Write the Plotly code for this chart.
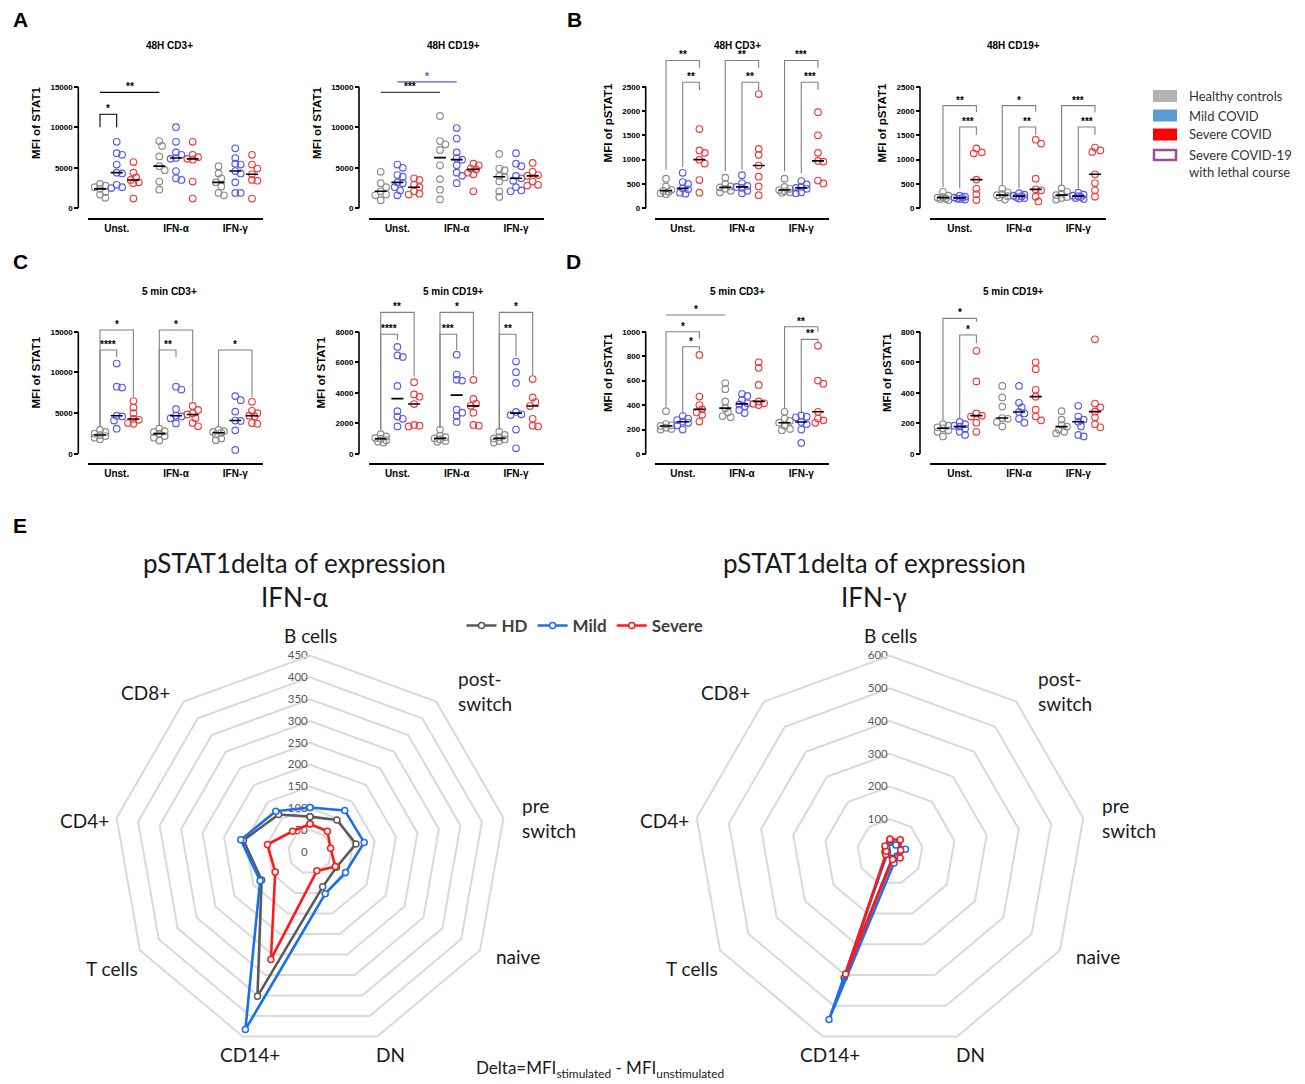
import numpy as np
import plotly.graph_objects as go

W, H = 1305, 1084

# ---------------- categories / labels ----------------
stims = ["Unst.", "IFN-α", "IFN-γ"]
cohorts = ["Healthy controls", "Mild COVID", "Severe COVID"]
legend_labels = ["Healthy controls", "Mild COVID", "Severe COVID",
                 "Severe COVID-19<br>with lethal course"]

# ---------------- A: 48H STAT1 (lists: Unst., IFN-α, IFN-γ) ----------------
a_cd3_hc = [[3000, 2800, 2600, 2400, 2000, 1700, 1300],
            [8300, 7700, 6400, 5200, 4700, 3300, 2300],
            [5200, 4300, 3700, 3200, 2700, 1900, 1600]]
a_cd3_mild = [[8200, 6800, 6600, 5400, 4400, 4300, 2900, 2600, 2500],
              [10000, 8200, 6900, 6600, 6200, 6100, 4600, 3700, 3500],
              [7400, 6200, 5500, 5400, 4600, 4300, 3200, 1900, 1900]]
a_cd3_sev = [[5700, 4400, 3800, 3500, 3200, 3100, 1200],
             [8200, 6600, 6300, 6100, 6000, 3300, 1200],
             [6600, 5400, 4900, 4200, 3500, 3400, 1200]]

a_cd19_hc = [[4500, 3100, 2600, 2100, 1700, 1600, 1000],
             [11400, 8300, 7900, 7200, 5300, 3600, 2300, 1100],
             [6700, 4900, 4700, 4000, 3800, 3300, 2100, 1400]]
a_cd19_mild = [[5400, 5000, 4100, 3900, 3200, 3100, 2600, 2200, 1600],
               [9900, 8600, 6900, 6200, 6000, 5300, 4400, 4000, 3100],
               [6800, 5500, 5200, 4000, 3700, 3400, 2600, 2200, 2100]]
a_cd19_sev = [[3700, 3500, 2900, 2600, 2100, 1800, 1700],
              [5500, 5300, 4900, 4800, 4400, 4200, 2100],
              [5600, 4500, 4100, 4000, 3300, 2900, 2800]]

# ---------------- B: 48H pSTAT1 ----------------
b_cd3_hc = [[610, 450, 380, 360, 340, 310, 290],
            [630, 500, 450, 430, 400, 360, 330],
            [610, 440, 400, 375, 350, 330, 320]]
b_cd3_mild = [[730, 540, 500, 410, 390, 320, 300],
              [680, 520, 460, 440, 420, 360, 310],
              [560, 490, 440, 420, 400, 330, 310]]
b_cd3_sev = [[1630, 1190, 1140, 1000, 920, 580, 320],
             [2350, 1220, 1100, 880, 650, 450, 270],
             [1975, 1500, 1140, 975, 960, 570, 510]]

b_cd19_hc = [[340, 260, 230, 220, 200, 190, 170],
             [400, 330, 290, 270, 250, 220, 180],
             [410, 340, 300, 270, 230, 210, 180]]
b_cd19_mild = [[260, 240, 220, 215, 200, 190, 180],
               [310, 280, 260, 250, 230, 210, 200],
               [320, 280, 260, 250, 230, 210, 190]]
b_cd19_sev = [[1230, 1150, 1130, 590, 400, 290, 170],
              [1410, 1330, 610, 390, 370, 240, 140],
              [1250, 1190, 1160, 700, 520, 370, 240]]

# ---------------- C: 5 min STAT1 ----------------
c_cd3_hc = [[2950, 2700, 2500, 2330, 2200, 2000, 1800],
            [3100, 2800, 2700, 2500, 2200, 2000, 1650],
            [2950, 2800, 2700, 2600, 2400, 1900, 1700]]
c_cd3_mild = [[11100, 8250, 8150, 4700, 4600, 4100, 3100],
              [8250, 7900, 5500, 4700, 4600, 4400, 3750],
              [7100, 6600, 5200, 4100, 4050, 2900, 500]]
c_cd3_sev = [[6500, 5700, 5000, 4300, 4200, 3800, 3700],
             [5900, 5400, 5000, 4850, 4400, 3800, 3400],
             [6400, 5300, 5000, 4700, 4600, 3800, 3700]]

c_cd19_hc = [[1300, 1150, 1050, 1000, 900, 800, 750],
             [1600, 1200, 1100, 1020, 950, 850, 800],
             [1450, 1250, 1100, 1020, 950, 850, 750]]
c_cd19_mild = [[7000, 6450, 6350, 4450, 2800, 2450, 2300, 1800],
               [6500, 5200, 4850, 4800, 2900, 2700, 2500, 2100],
               [6050, 5350, 4650, 2750, 2600, 2550, 1600, 370]]
c_cd19_sev = [[4700, 3900, 3750, 3270, 1900, 1850, 1800],
              [4850, 3600, 3300, 3150, 2700, 1900, 1850],
              [4900, 3700, 3400, 3140, 2300, 1850, 1800]]

# ---------------- D: 5 min pSTAT1 ----------------
d_cd3_hc = [[350, 245, 235, 229, 215, 205, 200],
            [580, 530, 430, 375, 340, 310, 300],
            [345, 290, 270, 256, 230, 205, 195]]
d_cd3_mild = [[310, 290, 278, 264, 255, 235, 200],
              [490, 475, 445, 415, 405, 390, 360, 335],
              [315, 305, 300, 262, 245, 200, 90]]
d_cd3_sev = [[810, 470, 400, 365, 340, 320, 265],
             [750, 705, 565, 430, 415, 410, 400],
             [885, 600, 575, 345, 290, 275, 255]]

d_cd19_hc = [[195, 185, 175, 168, 155, 145, 115],
             [445, 370, 310, 235, 230, 210, 180],
             [280, 225, 190, 179, 160, 145, 135]]
d_cd19_mild = [[210, 195, 185, 179, 165, 145, 125],
               [445, 335, 305, 275, 265, 230, 205],
               [315, 245, 225, 211, 180, 125, 115]]
d_cd19_sev = [[675, 475, 265, 251, 245, 205, 145],
              [600, 555, 420, 375, 290, 245, 220],
              [750, 330, 305, 277, 240, 195, 175]]

# tick values
ticks_15000 = [0, 5000, 10000, 15000]
ticks_2500 = [0, 500, 1000, 1500, 2000, 2500]
ticks_8000 = [0, 2000, 4000, 6000, 8000]
ticks_1000 = [0, 200, 400, 600, 800, 1000]
ticks_800 = [0, 200, 400, 600, 800]

# significance brackets: (stim0, cohort0, stim1, cohort1, top, left_end, right_end, label)
a_cd3_br = [(0, 0, 0, 1, 11600, 10000, 10000, "*"),
            (0, 0, 1, 0, 14300, 14300, 14300, "**")]
a_cd19_br = [(0, 0, 1, 0, 14300, 14300, 14300, "***"),
             (0, 1, 1, 1, 15600, 15600, 15600, "*")]
b_cd3_br = [(0, 0, 0, 2, 3040, 790, 2890, "**"), (0, 1, 0, 2, 2590, 850, 2430, "**"),
            (1, 0, 1, 2, 3040, 760, 2890, "**"), (1, 1, 1, 2, 2590, 790, 2430, "**"),
            (2, 0, 2, 2, 3040, 760, 2890, "***"), (2, 1, 2, 2, 2590, 720, 2430, "***")]
b_cd19_br = [(0, 0, 0, 2, 2110, 440, 1975, "**"), (0, 1, 0, 2, 1670, 410, 1510, "***"),
             (1, 0, 1, 2, 2110, 470, 1975, "*"), (1, 1, 1, 2, 1670, 410, 1510, "**"),
             (2, 0, 2, 2, 2110, 470, 1975, "***"), (2, 1, 2, 2, 1670, 410, 1510, "***")]
c_cd3_br = [(0, 0, 0, 2, 15200, 3350, 7030, "*"), (0, 0, 0, 1, 12750, 3350, 11900, "****"),
            (1, 0, 1, 2, 15200, 3500, 6450, "*"), (1, 0, 1, 1, 12750, 3500, 11900, "**"),
            (2, 0, 2, 2, 12750, 3350, 7000, "*")]
c_cd19_br = [(0, 0, 0, 2, 9265, 1570, 5060, "**"), (0, 0, 0, 1, 7830, 1570, 7450, "****"),
             (1, 0, 1, 2, 9265, 1700, 5170, "*"), (1, 0, 1, 1, 7830, 1700, 6800, "***"),
             (2, 0, 2, 2, 9265, 1600, 5170, "*"), (2, 0, 2, 1, 7830, 1600, 6370, "**")]
d_cd3_br = [(0, 0, 1, 0, 1136, 1136, 1136, "*"),
            (0, 0, 0, 2, 1000, 387, 946, "*"), (0, 1, 0, 2, 877, 332, 850, "*"),
            (2, 0, 2, 2, 1041, 373, 1000, "**"), (2, 1, 2, 2, 937, 332, 905, "**")]
d_cd19_br = [(0, 0, 0, 2, 887, 222, 865, "*"), (0, 1, 0, 2, 778, 233, 724, "*")]

# ---------------- E: radar data ----------------
cell_types = ["B cells", "post-switch", "pre switch", "naive", "DN",
              "CD14+", "T cells", "CD4+", "CD8+"]
cell_labels = ["B cells", "post-<br>switch", "pre<br>switch", "naive", "DN",
               "CD14+", "T cells", "CD4+", "CD8+"]
radar_groups = ["HD", "Mild", "Severe"]
ifna_hd = [81, 96, 107, 70, 85, 352, 128, 155, 112]
ifna_mild = [102, 124, 126, 94, 102, 433, 132, 161, 122]
ifna_sev = [64, 62, 48, 67, 46, 262, 92, 99, 62]
ifng_hd = [30, 30, 35, 25, 20, 410, 12, 15, 20]
ifng_mild = [35, 28, 48, 30, 36, 545, 10, 8, 15]
ifng_sev = [39, 49, 33, 36, 24, 397, 15, 12, 24]

# ---------------- styles ----------------
ARIAL = "Arial, Liberation Sans, sans-serif"
LATO = "Lato, Carlito, sans-serif"
DOT_COLORS = ["#8c8c8c", "#5a5af2", "#f03c3c"]
LEG_COLORS = ["#b3b1b1", "#5b9bd5", "#ff0000"]
LEG_OUTLINE = "#9b4f9b"
RADAR_COLORS = ["#5a5a5a", "#1a6ef0", "#ff1a1a"]
BR_GRAY = "#808080"
BR_BLUE = "#4b55f5"

DX = 16.7      # px per x unit
GS = 3.55      # x units between stimulation groups
col_axis = [78.3, 359.0, 645.7, 920.0]
col_first = [100.0, 380.7, 666.0, 943.0]
col_title = [169, 453, 737, 1013]
row_zero = [208.3, 454.0]
row_toptick = [86.7, 331.7]
row_dom = [(28, 218.0), (282, 463.3)]
row_title = [46, 291.7]

# radar label placement (offset from radar centre, px; anchor)
label_offsets = [(0, -217, "center"), (146, -161, "left"), (210, -34, "left"),
                 (208, 104, "center"), (80, 202, "center"), (-60, 202, "center"),
                 (-198, 116, "center"), (-226, -32, "center"), (-165, -160, "center")]

panels = [
    ("48H CD3+", "MFI of STAT1", [a_cd3_hc, a_cd3_mild, a_cd3_sev], ticks_15000, a_cd3_br, 0, 0, "black"),
    ("48H CD19+", "MFI of STAT1", [a_cd19_hc, a_cd19_mild, a_cd19_sev], ticks_15000, a_cd19_br, 1, 0, "#444444"),
    ("48H CD3+", "MFI of pSTAT1", [b_cd3_hc, b_cd3_mild, b_cd3_sev], ticks_2500, b_cd3_br, 2, 0, BR_GRAY),
    ("48H CD19+", "MFI of pSTAT1", [b_cd19_hc, b_cd19_mild, b_cd19_sev], ticks_2500, b_cd19_br, 3, 0, BR_GRAY),
    ("5 min CD3+", "MFI of STAT1", [c_cd3_hc, c_cd3_mild, c_cd3_sev], ticks_15000, c_cd3_br, 0, 1, BR_GRAY),
    ("5 min CD19+", "MFI of STAT1", [c_cd19_hc, c_cd19_mild, c_cd19_sev], ticks_8000, c_cd19_br, 1, 1, BR_GRAY),
    ("5 min CD3+", "MFI of pSTAT1", [d_cd3_hc, d_cd3_mild, d_cd3_sev], ticks_1000, d_cd3_br, 2, 1, BR_GRAY),
    ("5 min CD19+", "MFI of pSTAT1", [d_cd19_hc, d_cd19_mild, d_cd19_sev], ticks_800, d_cd19_br, 3, 1, BR_GRAY),
]


def swarm(vals, k, step=2.7, thr=5.0):
    """deterministic beeswarm offsets (in x units), spread capped to +-2 steps"""
    placed = []
    offs = np.zeros(len(vals))
    for i in np.argsort(-vals, kind="stable"):
        y = vals[i] * k
        best, best_d = 0.0, -1.0
        for cand in [0, 1, -1, 2, -2]:
            xo = cand * step
            dmin = min([np.hypot(xo - a, y - b) for a, b in placed] + [1e9])
            if dmin >= thr:
                best = xo
                break
            if dmin > best_d:
                best, best_d = xo, dmin
        placed.append((best, y))
        offs[i] = best
    return offs / DX


fig = go.Figure()
layout = {}
shapes = []
annotations = []


def fx(x):
    return x / W


def fy(y):
    return 1 - y / H


for i, (title, ytitle, data, ticks, brs, col, row, brcol) in enumerate(panels):
    n = i + 1
    sfx = "" if n == 1 else str(n)
    xn, yn = "x" + sfx, "y" + sfx
    top_px, bot_px = row_dom[row]
    p0 = row_zero[row]
    k = (p0 - row_toptick[row]) / ticks[-1]
    yr = [-(bot_px - p0) / k, (p0 - top_px) / k]
    x0 = col_axis[col] + 9.5
    x1 = col_first[col] + 163
    xr = [(x0 - col_first[col]) / DX, (x1 - col_first[col]) / DX]
    layout["xaxis" + sfx] = dict(
        domain=[x0 / W, x1 / W], range=xr, anchor=yn, showline=True,
        linecolor="black", linewidth=1.6, ticks="",
        tickvals=[g * GS + 1 for g in range(3)], ticktext=stims,
        tickfont=dict(family=ARIAL, size=10, color="black", weight="bold"),
        showgrid=False, zeroline=False, fixedrange=True)
    layout["yaxis" + sfx] = dict(
        domain=[1 - bot_px / H, 1 - top_px / H], range=yr, anchor="free",
        position=col_axis[col] / W, showline=False, ticks="outside", ticklen=4,
        tickwidth=1.5, tickcolor="black", tickvals=ticks, tickformat="d",
        tickfont=dict(family=ARIAL, size=8, color="black", weight="bold"),
        title=dict(text=ytitle, standoff=6,
                   font=dict(family=ARIAL, size=11.5, color="black", weight="bold")),
        showgrid=False, zeroline=False, fixedrange=True)
    shapes.append(dict(type="line", xref="paper", yref=yn,
                       x0=col_axis[col] / W, x1=col_axis[col] / W, y0=0, y1=ticks[-1],
                       line=dict(color="black", width=1.6)))
    annotations.append(dict(x=fx(col_title[col]), y=fy(row_title[row]), xref="paper", yref="paper",
                            text=title, showarrow=False, xanchor="center", yanchor="middle",
                            font=dict(family=ARIAL, size=10, color="black", weight="bold")))
    for g in range(3):
        for c in range(3):
            vals = np.array(data[c][g], dtype=float)
            xc = g * GS + c
            offs = swarm(vals, k)
            fig.add_trace(go.Scatter(
                x=xc + offs, y=vals, mode="markers", xaxis=xn, yaxis=yn,
                marker=dict(symbol="circle-open", size=6.6, color=DOT_COLORS[c],
                            line=dict(width=1.15)),
                showlegend=False, hoverinfo="skip", cliponaxis=False))
            med = float(np.median(vals))
            fig.add_trace(go.Scatter(
                x=[xc - 0.36, xc + 0.36], y=[med, med], mode="lines", xaxis=xn, yaxis=yn,
                line=dict(color="black", width=1.6), showlegend=False, hoverinfo="skip"))
    for (g0, c0, g1, c1, top, yl, yrr, lab) in brs:
        xa = g0 * GS + c0
        xb = g1 * GS + c1
        lc = brcol
        tc = "black"
        if n == 2 and c0 == 1:
            lc = BR_BLUE
            tc = BR_BLUE
        fig.add_trace(go.Scatter(
            x=[xa, xa, xb, xb], y=[yl, top, top, yrr], mode="lines", xaxis=xn, yaxis=yn,
            line=dict(color=lc, width=1.1), showlegend=False, hoverinfo="skip"))
        annotations.append(dict(x=(xa + xb) / 2, y=top, xref=xn, yref=yn, text=lab,
                                showarrow=False, xanchor="center", yanchor="bottom", yshift=-2,
                                font=dict(family=ARIAL, size=10, color=tc, weight="bold")))

# ---------------- legend (top-right) ----------------
leg_rows = [96, 115.5, 134.5, 155]
leg_text_y = [96, 115.5, 134.5, 163]
for j, lab in enumerate(legend_labels):
    yc = leg_rows[j]
    if j < 3:
        shapes.append(dict(type="rect", xref="paper", yref="paper",
                           x0=fx(1153), x1=fx(1177), y0=fy(yc + 6), y1=fy(yc - 6),
                           fillcolor=LEG_COLORS[j], line=dict(width=0)))
    else:
        shapes.append(dict(type="rect", xref="paper", yref="paper",
                           x0=fx(1154), x1=fx(1176), y0=fy(yc + 5), y1=fy(yc - 5),
                           fillcolor="white", line=dict(color=LEG_OUTLINE, width=2.5)))
    annotations.append(dict(x=fx(1187), y=fy(leg_text_y[j]), xref="paper", yref="paper",
                            text=lab, showarrow=False, xanchor="left", yanchor="middle",
                            align="left",
                            font=dict(family=LATO, size=13, color="#333333")))

# ---------------- panel letters ----------------
for letter, lx, ly in [("A", 20, 19), ("B", 574, 19), ("C", 20, 261), ("D", 573, 261), ("E", 20, 525)]:
    annotations.append(dict(x=fx(lx), y=fy(ly), xref="paper", yref="paper", text=letter,
                            showarrow=False, xanchor="center", yanchor="middle",
                            font=dict(family=ARIAL, size=21, color="black", weight="bold")))

# ---------------- radar charts ----------------
radar_centres = [(310, 852, 196.4), (890, 852, 196.3)]
radar_sets = [("polar", [ifna_hd, ifna_mild, ifna_sev], True),
              ("polar2", [ifng_hd, ifng_mild, ifng_sev], False)]
for sub, sets, show in radar_sets:
    for j, vals in enumerate(sets):
        fig.add_trace(go.Scatterpolar(
            r=list(vals) + [vals[0]], theta=cell_types + [cell_types[0]],
            mode="lines+markers", subplot=sub, name=radar_groups[j], showlegend=show,
            line=dict(color=RADAR_COLORS[j], width=2.6),
            marker=dict(symbol="circle", size=6, color="white",
                        line=dict(color=RADAR_COLORS[j], width=1.5)),
            hoverinfo="skip"))


def polar_layout(cx, cy, R, rmax, dr):
    return dict(
        domain=dict(x=[fx(cx - R), fx(cx + R)], y=[fy(cy + R), fy(cy - R)]),
        gridshape="linear", bgcolor="rgba(0,0,0,0)",
        radialaxis=dict(range=[0, rmax], tickvals=list(range(0, rmax + 1, dr)), angle=90,
                        tickangle=90, side="counterclockwise", showline=False, ticks="",
                        gridcolor="#d9d9d9", gridwidth=2, layer="below traces",
                        tickfont=dict(family=LATO, size=11.5, color="#595959")),
        angularaxis=dict(type="category", categoryarray=cell_types, direction="clockwise",
                         rotation=90, showgrid=False, showline=True, linecolor="#d9d9d9",
                         linewidth=2, ticks="", showticklabels=False))


layout["polar"] = polar_layout(*radar_centres[0], 450, 50)
layout["polar2"] = polar_layout(*radar_centres[1], 600, 100)

for cx, cy, R in radar_centres:
    for lab, (dx, dy, anc) in zip(cell_labels, label_offsets):
        annotations.append(dict(x=fx(cx + dx), y=fy(cy + dy), xref="paper", yref="paper",
                                text=lab, showarrow=False, xanchor=anc, yanchor="middle",
                                align="left",
                                font=dict(family=LATO, size=19, color="#1a1a1a")))

for tx, sub_t in [(294, "IFN-α"), (874, "IFN-γ")]:
    annotations.append(dict(x=fx(tx), y=fy(563), xref="paper", yref="paper",
                            text="pSTAT1delta of expression", showarrow=False,
                            xanchor="center", yanchor="middle",
                            font=dict(family=LATO, size=26, color="#1a1a1a")))
    annotations.append(dict(x=fx(tx), y=fy(597), xref="paper", yref="paper",
                            text=sub_t, showarrow=False, xanchor="center", yanchor="middle",
                            font=dict(family=LATO, size=26, color="#1a1a1a")))

annotations.append(dict(x=fx(600), y=fy(1069), xref="paper", yref="paper",
                        text="Delta=MFI<sub>stimulated</sub> - MFI<sub>unstimulated</sub>",
                        showarrow=False, xanchor="center", yanchor="middle",
                        font=dict(family=LATO, size=17, color="#1a1a1a")))

fig.update_layout(
    width=W, height=H, margin=dict(l=0, r=0, t=0, b=0),
    paper_bgcolor="white", plot_bgcolor="rgba(0,0,0,0)",
    shapes=shapes, annotations=annotations,
    showlegend=True,
    legend=dict(orientation="h", x=fx(585), xanchor="center", y=fy(608), yanchor="top",
                font=dict(family=LATO, size=17, color="#404040", weight="bold"),
                bgcolor="rgba(0,0,0,0)", itemwidth=30, tracegroupgap=0),
    **layout)

fig.write_html("out.html", config={"displayModeBar": False},
               post_script="document.body.style.margin='0';")
